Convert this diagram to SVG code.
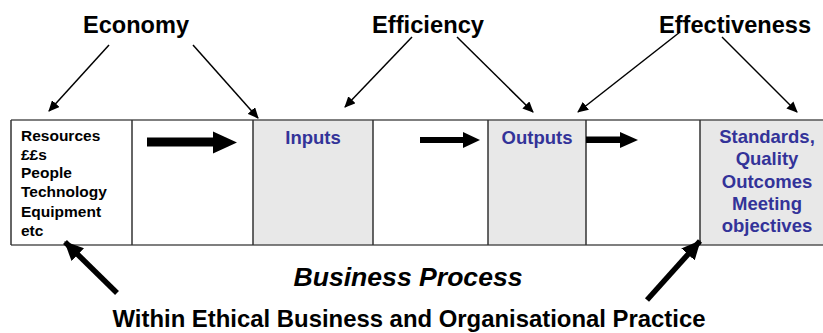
<svg xmlns="http://www.w3.org/2000/svg" width="823" height="333" viewBox="0 0 823 333">
<style>
text{font-family:"Liberation Sans",Arial,sans-serif;font-weight:bold}
.lbl{font-size:23px;fill:#000}
.res{font-size:15.5px;fill:#000}
.blue{font-size:18.5px;fill:#333399;text-anchor:middle}
.grey{fill:#e8e8e8}
.hl{stroke:#555;stroke-width:1.6;fill:none}
.vl{stroke:#333;stroke-width:1.5}
.thin{stroke:#000;stroke-width:1.5;fill:none;marker-end:url(#ah)}
.thick{stroke:#000;stroke-width:5.5;fill:none;marker-end:url(#ahb)}
</style>
<defs>
<marker id="ah" markerUnits="userSpaceOnUse" markerWidth="12" markerHeight="10" refX="10" refY="5" orient="auto" viewBox="0 0 12 10">
<path d="M0,0 L11,5 L0,10 Z" fill="#000"/>
</marker>
<marker id="ahb" markerUnits="userSpaceOnUse" markerWidth="20" markerHeight="18" refX="18" refY="9" orient="auto" viewBox="0 0 20 18">
<path d="M0,0 L19,9 L0,18 Z" fill="#000"/>
</marker>
</defs>
<rect width="823" height="333" fill="#fff"/>

<g id="process-table">
<rect class="grey" x="253" y="120" width="120" height="125"/>
<rect class="grey" x="488" y="120" width="98" height="125"/>
<rect class="grey" x="700" y="120" width="123" height="125"/>
<line class="hl" x1="11" y1="120" x2="823" y2="120"/>
<line class="hl" x1="11" y1="245" x2="823" y2="245"/>
<line class="vl" x1="11" y1="120" x2="11" y2="245"/>
<line class="vl" x1="132" y1="120" x2="132" y2="245"/>
<line class="vl" x1="253" y1="120" x2="253" y2="245"/>
<line class="vl" x1="373" y1="120" x2="373" y2="245"/>
<line class="vl" x1="488" y1="120" x2="488" y2="245"/>
<line class="vl" x1="586" y1="120" x2="586" y2="245"/>
<line class="vl" x1="700" y1="120" x2="700" y2="245"/>
</g>

<g id="resources">
<text class="res" x="21" y="141">Resources</text>
<text class="res" x="21" y="159.5">££s</text>
<text class="res" x="21" y="178">People</text>
<text class="res" x="21" y="197">Technology</text>
<text class="res" x="21" y="216.5">Equipment</text>
<text class="res" x="21" y="236">etc</text>
</g>

<g id="inputs">
<text class="blue" x="313" y="144">Inputs</text>
</g>

<g id="outputs">
<text class="blue" x="537" y="144">Outputs</text>
</g>

<g id="standards">
<text class="blue" x="767" y="143">Standards,</text>
<text class="blue" x="767" y="165">Quality</text>
<text class="blue" x="767" y="187.5">Outcomes</text>
<text class="blue" x="767" y="209.5">Meeting</text>
<text class="blue" x="767" y="232">objectives</text>
</g>

<g id="economy"><text class="lbl" x="136" y="33" text-anchor="middle" textLength="106" lengthAdjust="spacingAndGlyphs">Economy</text></g>
<g id="efficiency"><text class="lbl" x="428" y="33" text-anchor="middle" textLength="112" lengthAdjust="spacingAndGlyphs">Efficiency</text></g>
<g id="effectiveness"><text class="lbl" x="735" y="33" text-anchor="middle" textLength="152" lengthAdjust="spacingAndGlyphs">Effectiveness</text></g>

<g id="business-process"><text x="408" y="286" text-anchor="middle" font-size="25" font-style="italic" textLength="229" lengthAdjust="spacingAndGlyphs">Business Process</text></g>
<g id="ethical-practice"><text x="409" y="327" text-anchor="middle" font-size="24" textLength="593" lengthAdjust="spacingAndGlyphs">Within Ethical Business and Organisational Practice</text></g>

<g id="connectors">
<line class="thin" x1="109" y1="45" x2="49" y2="111"/>
<line class="thin" x1="193" y1="45" x2="258" y2="118"/>
<line class="thin" x1="412" y1="37" x2="345" y2="107"/>
<line class="thin" x1="457" y1="37" x2="533" y2="112"/>
<line class="thin" x1="680" y1="32" x2="578" y2="112"/>
<line class="thin" x1="722" y1="37" x2="797" y2="112"/>
<polygon points="147,137.5 213,137.5 213,131.5 237,142.5 213,153.5 213,146.5 147,146.5" fill="#000"/>
<polygon points="420,137 463,137 463,132 480,140 463,148 463,143 420,143" fill="#000"/>
<polygon points="586,136.5 620,136.5 620,132 638,140 620,148 620,143 586,143" fill="#000"/>
<line class="thick" x1="117" y1="293" x2="65" y2="242"/>
<line class="thick" x1="647" y1="300" x2="700" y2="241"/>
</g>
</svg>
